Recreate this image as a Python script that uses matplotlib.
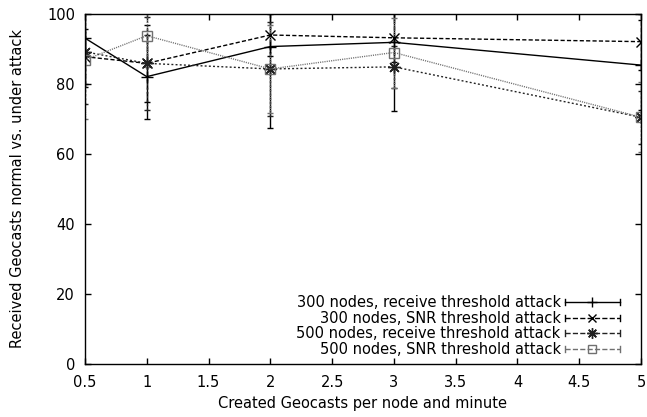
import matplotlib
matplotlib.use("Agg")
import matplotlib.pyplot as plt
from matplotlib.lines import Line2D
from matplotlib.legend_handler import HandlerLine2D

plt.rcParams['font.family'] = ['DejaVu Sans']
plt.rcParams['font.size'] = 10.5

x = [0.5, 1, 2, 3, 5]
labels = ["300 nodes, receive threshold attack",
          "300 nodes, SNR threshold attack",
          "500 nodes, receive threshold attack",
          "500 nodes, SNR threshold attack"]
s1 = [93.1, 82.1, 90.7, 91.9, 85.4]
e1 = [14.0, 12.0, 23.4, 19.5, 12.9]
s2 = [87.8, 85.9, 94.0, 93.2, 92.1]
e2 = [7.8, 11.0, 6.0, 7.0, 8.0]
s3 = [89.2, 85.9, 84.3, 84.9, 70.5]
e3 = [15.0, 13.3, 13.4, 6.0, 7.5]
s4 = [86.9, 93.8, 84.3, 89.0, 70.5]
e4 = [17.0, 9.0, 12.6, 10.0, 10.0]

xticks = [0.5, 1, 1.5, 2, 2.5, 3, 3.5, 4, 4.5, 5]
yticks = [0, 20, 40, 60, 80, 100]

series = [s1, s2, s3, s4]
errs = [e1, e2, e3, e4]
styles = [
    dict(color='black', ls='-', marker='+', ms=8),
    dict(color='black', ls=(0, (3, 1.6)), marker='x', ms=7),
    dict(color='#222222', ls=(0, (1.4, 1.6)), marker=(8, 2, 0), ms=9),
    dict(color='#707070', ls=(0, (0.8, 0.8)), marker='s', ms=7),
]

fig = plt.figure(figsize=(6.47, 4.17), dpi=100)
ax = fig.add_axes([85/647, 1-364/417, 556/647, 350/417])

handles = []
for s, e, st, lab in zip(series, errs, styles, labels):
    eb = ax.errorbar(x, s, yerr=e, color=st['color'], ls=st['ls'], lw=1.0,
                     marker=st['marker'], ms=st['ms'], mfc='none',
                     mec=st['color'], mew=1.0, capsize=2.0, elinewidth=1.0,
                     capthick=1.0)
    for bc in eb[2]:
        bc.set_linestyle(st['ls'])
    h = Line2D([], [], color=st['color'], ls=st['ls'], lw=1.0,
               marker=st['marker'], ms=st['ms'], mfc='none',
               mec=st['color'], mew=1.0)
    handles.append(h)


class CapHandler(HandlerLine2D):
    def create_artists(self, legend, orig_handle, xdescent, ydescent,
                       width, height, fontsize, trans):
        y = height / 2 - ydescent
        x0 = -xdescent
        x1 = width - xdescent
        c = orig_handle.get_color()
        ls = orig_handle.get_linestyle()
        line = Line2D([x0, x1], [y, y], color=c, ls=ls, lw=1.0)
        mk = Line2D([(x0 + x1) / 2], [y], marker=orig_handle.get_marker(),
                    ms=orig_handle.get_markersize() * 0.85, mfc='none',
                    mec=c, mew=1.0, ls='none')
        hcap = height * 0.3
        cap1 = Line2D([x0, x0], [y - hcap, y + hcap], color=c, lw=1.0)
        cap2 = Line2D([x1, x1], [y - hcap, y + hcap], color=c, lw=1.0)
        arts = [line, mk, cap1, cap2]
        for a in arts:
            a.set_transform(trans)
        return arts


leg = ax.legend(handles, labels, loc='lower right', frameon=False,
                bbox_to_anchor=(0.9622, 0.0206), borderaxespad=0,
                borderpad=0, markerfirst=False, alignment='right',
                handlelength=3.8, handletextpad=0.27, labelspacing=0.03,
                handler_map={Line2D: CapHandler()})

ax.set_xlim(0.5, 5)
ax.set_ylim(0, 100)
ax.set_xticks(xticks)
ax.set_xticklabels([f"{t:g}" for t in xticks])
ax.set_yticks(yticks)
ax.tick_params(direction='in', length=4.5, width=1.0, top=True, right=True)
ax.tick_params(axis='x', pad=7.8)
ax.tick_params(axis='y', pad=7.2)
for sp in ax.spines.values():
    sp.set_linewidth(1.0)
ax.set_xlabel("Created Geocasts per node and minute", labelpad=4.3)
ax.set_ylabel("Received Geocasts normal vs. under attack")
ax.yaxis.set_label_coords(-0.108, 0.5)

fig.savefig("out.png", dpi=100)
